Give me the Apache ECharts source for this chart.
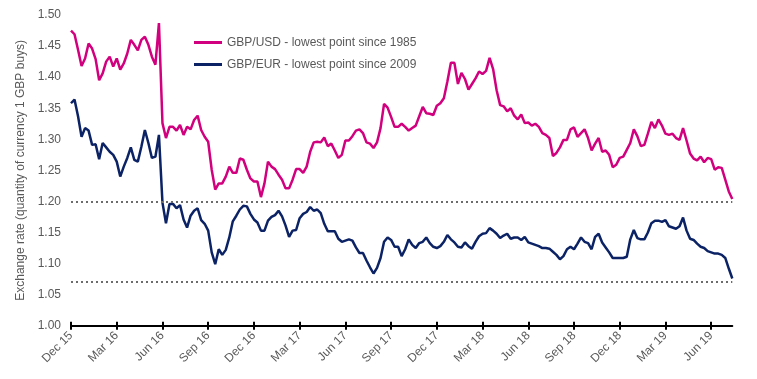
<!DOCTYPE html>
<html>
<head>
<meta charset="utf-8">
<script src="https://cdn.jsdelivr.net/npm/echarts@6/dist/echarts.min.js"></script>
<style>
html,body{margin:0;padding:0;background:#fff;}
#chart{width:757px;height:379px;}
</style>
</head>
<body>
<div id="chart"></div>
<script>
// Weekly observations starting 31 Dec 2015
const startDate = '2015-12-31';
const tickLabels = ['Dec 15','Mar 16','Jun 16','Sep 16','Dec 16','Mar 17','Jun 17','Sep 17','Dec 17','Mar 18','Jun 18','Sep 18','Dec 18','Mar 19','Jun 19'];
const weeksPerTick = 13;

const gbpUsd = [
1.475,1.469,1.444,1.418,1.430,1.454,1.446,1.429,1.395,1.406,
1.425,1.433,1.417,1.430,1.412,1.422,1.438,1.460,1.452,1.443,
1.460,1.465,1.452,1.433,1.420,1.487,1.326,1.302,1.320,1.320,
1.314,1.323,1.307,1.320,1.316,1.331,1.338,1.315,1.304,1.296,
1.251,1.219,1.229,1.229,1.240,1.256,1.246,1.246,1.269,1.267,
1.251,1.237,1.232,1.232,1.207,1.229,1.264,1.256,1.252,1.243,
1.235,1.221,1.221,1.235,1.252,1.252,1.246,1.256,1.280,1.295,
1.296,1.295,1.303,1.289,1.293,1.282,1.270,1.275,1.298,1.298,
1.305,1.314,1.316,1.310,1.295,1.293,1.286,1.295,1.318,1.357,
1.351,1.336,1.320,1.320,1.325,1.320,1.314,1.318,1.322,1.337,
1.352,1.342,1.341,1.339,1.354,1.358,1.366,1.393,1.423,1.423,
1.389,1.407,1.397,1.380,1.389,1.398,1.409,1.405,1.410,1.431,
1.413,1.379,1.355,1.353,1.345,1.350,1.338,1.332,1.340,1.326,
1.327,1.322,1.325,1.320,1.310,1.307,1.302,1.273,1.278,1.287,
1.299,1.299,1.316,1.319,1.304,1.310,1.316,1.302,1.282,1.293,
1.302,1.280,1.282,1.275,1.255,1.259,1.270,1.272,1.283,1.294,
1.316,1.305,1.289,1.291,1.309,1.328,1.318,1.332,1.322,1.309,
1.307,1.309,1.302,1.299,1.318,1.298,1.277,1.269,1.266,1.272,
1.263,1.270,1.268,1.251,1.255,1.254,1.235,1.216,1.204
];

const gbpEur = [
1.358,1.364,1.337,1.304,1.318,1.314,1.291,1.292,1.268,1.294,
1.287,1.280,1.275,1.264,1.240,1.256,1.270,1.287,1.267,1.264,
1.288,1.315,1.294,1.270,1.272,1.307,1.198,1.165,1.196,1.196,
1.189,1.194,1.171,1.158,1.177,1.185,1.189,1.170,1.164,1.153,
1.118,1.099,1.123,1.114,1.122,1.142,1.168,1.177,1.187,1.193,
1.192,1.180,1.171,1.166,1.153,1.153,1.169,1.175,1.178,1.185,
1.176,1.161,1.143,1.153,1.154,1.173,1.180,1.183,1.191,1.185,
1.187,1.181,1.164,1.152,1.152,1.152,1.140,1.135,1.137,1.139,
1.137,1.126,1.117,1.117,1.105,1.094,1.084,1.093,1.109,1.135,
1.142,1.138,1.127,1.127,1.112,1.123,1.139,1.130,1.125,1.133,
1.135,1.142,1.133,1.127,1.125,1.128,1.135,1.146,1.139,1.134,
1.127,1.126,1.134,1.128,1.124,1.135,1.144,1.148,1.149,1.157,
1.153,1.148,1.141,1.145,1.148,1.140,1.142,1.142,1.138,1.143,
1.134,1.132,1.130,1.128,1.125,1.125,1.124,1.119,1.114,1.107,
1.112,1.123,1.127,1.123,1.132,1.142,1.135,1.133,1.123,1.143,
1.148,1.134,1.126,1.118,1.109,1.109,1.109,1.109,1.111,1.139,
1.154,1.141,1.139,1.139,1.150,1.165,1.169,1.169,1.167,1.170,
1.160,1.158,1.156,1.160,1.174,1.153,1.140,1.138,1.132,1.127,
1.125,1.120,1.118,1.116,1.116,1.114,1.109,1.092,1.076
];

const usdLow = 1.204;
const eurLow = 1.075;

// weekly category dates
const categories = [];
const d0 = new Date(startDate + 'T00:00:00Z');
for (let i = 0; i < gbpUsd.length; i++) {
  const d = new Date(d0.getTime() + i * 7 * 86400000);
  categories.push(d.toISOString().slice(0, 10));
}

const FONT = '"Liberation Sans", Arial, sans-serif';
const GREY = '#595959';
const chart = echarts.init(document.getElementById('chart'), null, {renderer: 'canvas'});
const isTick = (idx) => idx % weeksPerTick === 0;

chart.setOption({
  animation: false,
  backgroundColor: '#fff',
  grid: {left: 71, right: 24.7, top: 15, bottom: 53.3},
  legend: {
    orient: 'vertical', left: 189, top: 31,
    itemWidth: 28, itemHeight: 3, itemGap: 9,
    icon: 'rect',
    textStyle: {color: GREY, fontFamily: FONT, fontSize: 12, lineHeight: 13},
    data: ['GBP/USD - lowest point since 1985', 'GBP/EUR - lowest point since 2009']
  },
  xAxis: [{
    type: 'category', data: categories, boundaryGap: false,
    axisLine: {show: true, lineStyle: {color: '#000', width: 2}},
    axisTick: {show: true, interval: (i) => isTick(i), length: 4, lineStyle: {color: '#000', width: 2}},
    axisLabel: {
      show: true, interval: (i) => isTick(i), rotate: 45, margin: 8,
      color: GREY, fontFamily: FONT, fontSize: 12,
      formatter: (v, i) => tickLabels[Math.round(i / weeksPerTick)] || ''
    },
    splitLine: {show: false}
  }, {
    type: 'category', data: categories, boundaryGap: false, position: 'bottom',
    axisLine: {show: false},
    axisTick: {show: true, inside: true, interval: (i) => isTick(i), length: 4, lineStyle: {color: '#000', width: 2}},
    axisLabel: {show: false},
    splitLine: {show: false}
  }],
  yAxis: {
    type: 'value', min: 1.0, max: 1.5, interval: 0.05,
    name: 'Exchange rate (quantity of currency 1 GBP buys)',
    nameLocation: 'middle', nameGap: 41,
    nameTextStyle: {color: GREY, fontFamily: FONT, fontSize: 12},
    axisLine: {show: false}, axisTick: {show: false}, splitLine: {show: false},
    axisLabel: {color: GREY, fontFamily: FONT, fontSize: 12, margin: 10, formatter: (v) => v.toFixed(2)}
  },
  series: [{
    name: 'GBP/USD - lowest point since 1985', type: 'line', data: gbpUsd,
    symbol: 'none', lineStyle: {color: '#D1007E', width: 2.5}, itemStyle: {color: '#D1007E'},
    markLine: {
      silent: true, symbol: 'none', label: {show: false},
      lineStyle: {color: '#6b6b6b', type: [2, 3], width: 2},
      data: [{yAxis: usdLow}]
    }, z: 3
  }, {
    name: 'GBP/EUR - lowest point since 2009', type: 'line', data: gbpEur,
    symbol: 'none', lineStyle: {color: '#0B2265', width: 2.5}, itemStyle: {color: '#0B2265'},
    markLine: {
      silent: true, symbol: 'none', label: {show: false},
      lineStyle: {color: '#6b6b6b', type: [2, 3], width: 2},
      data: [{yAxis: eurLow}]
    }, z: 3
  }]
});
</script>
</body>
</html>
